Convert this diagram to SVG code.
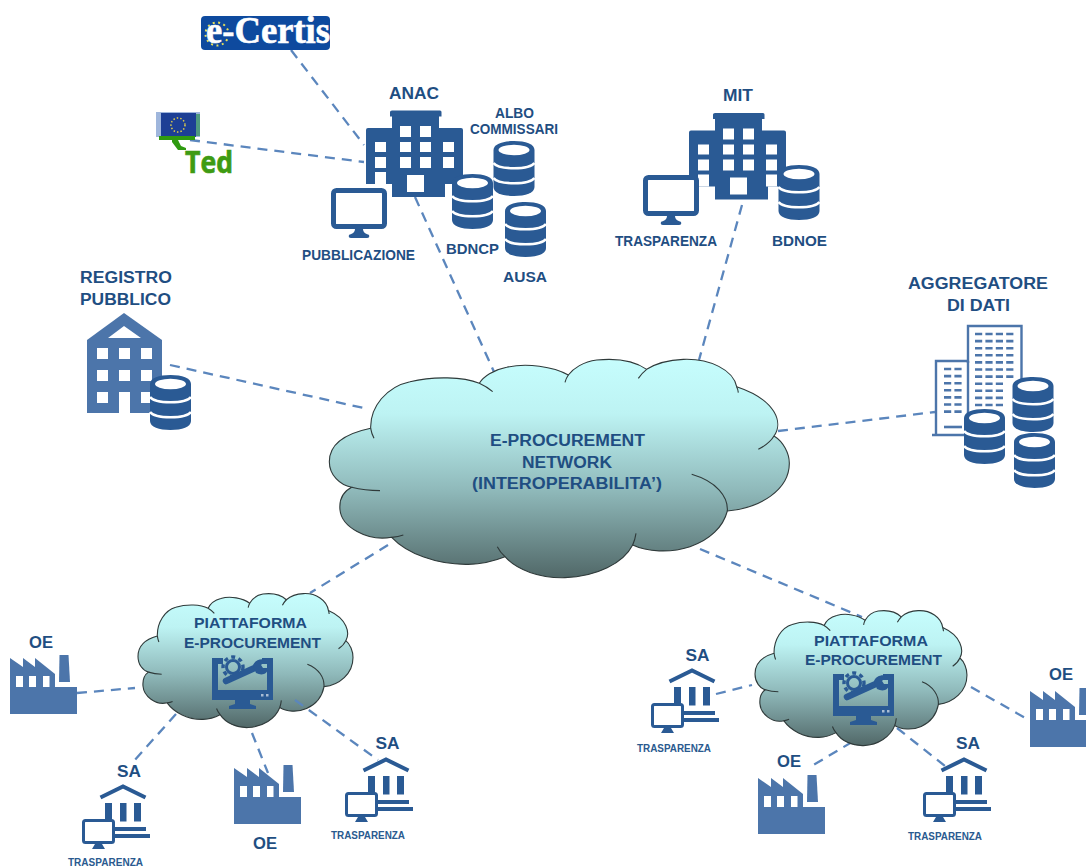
<svg xmlns="http://www.w3.org/2000/svg" xmlns:xlink="http://www.w3.org/1999/xlink" width="1086" height="867" viewBox="0 0 1086 867">
<style>
text{font-family:"Liberation Sans",Arial,sans-serif;font-weight:700;fill:#1f4e82;text-anchor:middle}
.t16{font-size:17.2px}.t15{font-size:15.5px}.t14{font-size:14.3px}.t10{font-size:10px;fill:#2a5a8f}
.dark{fill:#2a5a94}.light{fill:#4c75aa}.w{fill:#fff}
.conn{fill:none;stroke:#5b86bd;stroke-width:2.300;stroke-dasharray:10 7}
.cl{fill:url(#cloudGrad);stroke:#2f3a3a;stroke-width:1.1;vector-effect:non-scaling-stroke}
.arc{fill:none;stroke:#2f3a3a;stroke-width:1.1;vector-effect:non-scaling-stroke}
</style>
<defs>
<linearGradient id="cloudGrad" x1="0" y1="0" x2="0" y2="1">
<stop offset="0" stop-color="#c6fdfd"/><stop offset=".25" stop-color="#bdf3f3"/><stop offset=".6" stop-color="#8fb9ba"/><stop offset="1" stop-color="#516868"/>
</linearGradient>
<g id="cloud">
<path class="cl" d="M152,235C80,250 28,280 28,335C28,375 60,405 95,412C60,430 58,460 60,480C65,530 140,575 215,562C260,610 350,645 445,643C490,642 530,630 555,620C590,660 660,685 735,683C830,680 910,640 938,585C980,605 1050,610 1110,590C1170,570 1210,530 1222,483C1320,475 1408,420 1408,340C1408,310 1390,275 1362,258C1390,220 1370,150 1250,110C1240,60 1170,25 1090,28C1040,30 1000,45 980,58C940,30 880,25 830,30C790,35 760,55 745,75C700,50 620,38 560,52C520,60 490,80 478,100C430,80 340,78 270,95C200,110 150,170 152,235Z"/>
<path class="arc" d="M152,235Q155,252 162,265M95,412Q135,422 180,422M215,562Q235,560 250,555M532,590Q540,606 555,620M948,550Q945,570 938,585M1115,373C1190,395 1225,440 1222,483M1315,298C1340,285 1355,270 1362,258M1250,110Q1254,118 1255,128M980,58Q965,70 955,85M745,75Q738,85 735,97M478,100Q500,110 518,125"/>
</g>
<g id="cyl">
<path class="dark" d="M0,9C0,3 9,0 20.5,0S41,3 41,9V46C41,52 32,55 20.5,55S0,52 0,46Z"/>
<ellipse class="w" cx="20.5" cy="9" rx="15.5" ry="5.2"/>
<path d="M0,22C5,29 36,29 41,22M0,37C5,44 36,44 41,37" fill="none" stroke="#fff" stroke-width="2.6"/>
</g>
<g id="factory">
<path class="light" d="M0,3L13,12V3L25,12V3L45,19V32H67V59H0Z"/>
<path class="light" d="M49.500,0H58.500L60,27H49Z"/>
<path class="w" d="M6,21h7v11h-7zM19,21h7v11h-7zM33,21h6.500v11h-6.500z"/>
</g>
<g id="monitor">
<rect x="2.500" y="2.500" width="51" height="36" rx="3" fill="#fff" stroke="#2a5a94" stroke-width="5"/>
<path class="dark" d="M24,41H32C32,45 36,46 38,47Q39,50 36,50H20Q17,50 18,47C20,46 24,45 24,41Z"/>
</g>
<g id="sa">
<path d="M18.500,12.500L41,1.500L63.500,12.500" fill="none" stroke="#2a5a94" stroke-width="4"/>
<path class="dark" d="M23,18h7v18.500h-7zM38,18h6.500v18.500h-6.500zM52,18h7v18.500h-7zM33,42h31v4h-31zM33,49h35v4h-35z"/>
<rect x="1.500" y="35.500" width="30" height="22" rx="2" fill="#fff" stroke="#2a5a94" stroke-width="3"/>
<path class="dark" d="M13,59H20L23,64H10Z"/>
</g>
<g id="tool">
<path d="M11,4H3V37H58V4H50" fill="none" stroke="#2a5a94" stroke-width="6"/>
<path class="dark" d="M0,33H61V43H0ZM23,43H38V47L44,49V52H17V49L23,47Z"/>
<path class="w" d="M49,37h2.500v2.500h-2.500zM54,37h2.500v2.500h-2.500z" opacity=".6"/>
<circle cx="21" cy="10" r="6.500" fill="none" stroke="#2a5a94" stroke-width="3"/>
<circle cx="21" cy="10" r="10" fill="none" stroke="#2a5a94" stroke-width="3.400" stroke-dasharray="4 3.500"/>
<path d="M14,24L46,9.500" fill="none" stroke="#2a5a94" stroke-width="6.500" stroke-linecap="round"/>
<path class="dark" d="M41,8C43,3 49,1 54,3L49,8L51,11L56,11C56,17 50,19 44,16Z"/>
</g>
</defs>

<g id="connectors">
<path class="conn" d="M291,50L364,145"/>
<path class="conn" d="M190,140L364,162"/>
<path class="conn" d="M415,197L495,374"/>
<path class="conn" d="M742,205L699,360"/>
<path class="conn" d="M170,365L368,409"/>
<path class="conn" d="M778,431L935,412"/>
<path class="conn" d="M388,545L310,593"/>
<path class="conn" d="M700,549L862,617"/>
<path class="conn" d="M77,693L135,688"/>
<path class="conn" d="M176,714L133,762"/>
<path class="conn" d="M252,733L268,773"/>
<path class="conn" d="M716,694L752,685"/>
<path class="conn" d="M852,742L810,767"/>
<path class="conn" d="M971,687L1027,719"/>
</g>

<g id="ecertis">
<rect x="201" y="16" width="129" height="34" rx="4" fill="#0e4a9e"/>
<circle cx="217" cy="34" r="11.500" fill="none" stroke="#e8e05a" stroke-width="2" stroke-dasharray="2 3.500"/>
<text x="268" y="43" style="font-family:'Liberation Serif',serif;fill:#fff;stroke:#fff;stroke-width:.6;font-size:37px" textLength="124" lengthAdjust="spacingAndGlyphs">e-Certis</text>
</g>

<g id="ted">
<rect x="156" y="112" width="44" height="25" fill="#9fb6dc"/>
<rect x="161" y="113" width="35" height="24" fill="#1d3f95"/>
<rect x="196" y="114" width="4" height="22" fill="#4f9a80"/>
<circle cx="178" cy="125" r="7" fill="none" stroke="#e3cf4a" stroke-width="1.500" stroke-dasharray="1.500 2"/>
<path d="M159,136H195V140H178L181,146L186,148V150H178L172,142V140H159Z" fill="#2f9a10"/>
<text x="209" y="173" style="font-family:'Open Sans',sans-serif;fill:#3e9b12;stroke:#3e9b12;stroke-width:.7;font-size:31px" textLength="48" lengthAdjust="spacingAndGlyphs">Ted</text>
</g>

<g id="anac">
<g id="anacBuilding">
<path class="dark" d="M390,112Q390,110.500 392,110.500H440Q441.500,110.500 441.500,112V116.500H439V128H461Q463,128 463,130V184H445V197H392V184H366V130Q366,128 368,128H392V116.500H390Z"/>
<path class="w" d="M400,126h11v11h-11zM420,126h11v11h-11zM375,142h11v10h-11zM400,142h11v10h-11zM420,142h11v10h-11zM443,142h11v10h-11zM375,157h11v11h-11zM400,157h11v11h-11zM420,157h11v11h-11zM443,157h11v11h-11zM375,172h11v12h-11zM407,175h17v17h-17z"/>
</g>
<use href="#monitor" x="331" y="188"/>
<use href="#cyl" x="493.500" y="141"/>
<use href="#cyl" x="452" y="174"/>
<use href="#cyl" x="505" y="202"/>
<text class="t16" x="414" y="98.500" textLength="50" lengthAdjust="spacingAndGlyphs">ANAC</text>
<text class="t14" x="514.500" y="118" textLength="39" lengthAdjust="spacingAndGlyphs">ALBO</text>
<text class="t14" x="514" y="134" textLength="88" lengthAdjust="spacingAndGlyphs">COMMISSARI</text>
<text class="t14" x="358.500" y="260" textLength="113" lengthAdjust="spacingAndGlyphs">PUBBLICAZIONE</text>
<text class="t14" x="472.500" y="254" textLength="53" lengthAdjust="spacingAndGlyphs">BDNCP</text>
<text class="t14" x="525" y="282" textLength="44" lengthAdjust="spacingAndGlyphs">AUSA</text>
</g>

<g id="mit">
<g transform="translate(323,2.500)">
<path class="dark" d="M390,112Q390,110.500 392,110.500H440Q441.500,110.500 441.500,112V116.500H439V128H461Q463,128 463,130V184H445V197H392V184H366V130Q366,128 368,128H392V116.500H390Z"/>
<path class="w" d="M400,126h11v11h-11zM420,126h11v11h-11zM375,142h11v10h-11zM400,142h11v10h-11zM420,142h11v10h-11zM443,142h11v10h-11zM375,157h11v11h-11zM400,157h11v11h-11zM420,157h11v11h-11zM443,157h11v11h-11zM375,172h11v12h-11zM443,172h11v12h-11zM407,175h17v17h-17z"/>
</g>
<use href="#monitor" x="643" y="175"/>
<use href="#cyl" x="778.500" y="165"/>
<text class="t16" x="738" y="101" textLength="30" lengthAdjust="spacingAndGlyphs">MIT</text>
<text class="t14" x="666" y="246" textLength="102" lengthAdjust="spacingAndGlyphs">TRASPARENZA</text>
<text class="t14" x="799.500" y="246" textLength="55" lengthAdjust="spacingAndGlyphs">BDNOE</text>
</g>

<g id="registro">
<path class="light" d="M124,313L162,340V413H87V340Z"/>
<path class="w" d="M108,338L124,326L141,338ZM97,348h11v11h-11zM119,348h11v11h-11zM141,348h11v11h-11zM97,370h11v11h-11zM119,370h11v11h-11zM141,370h11v11h-11zM97,392h11v11h-11zM119,392h11v21h-11zM141,392h11v11h-11z"/>
<use href="#cyl" x="150" y="375"/>
<text class="t16" x="126" y="283" textLength="92" lengthAdjust="spacingAndGlyphs">REGISTRO</text>
<text class="t16" x="125.500" y="305" textLength="91" lengthAdjust="spacingAndGlyphs">PUBBLICO</text>
</g>

<g id="aggregatore">
<path d="M968,363V326H1021.500V385M968,361H936V435M932,435H965" fill="none" stroke="#4c75aa" stroke-width="2.400"/>
<path d="M968,361V420" fill="none" stroke="#4c75aa" stroke-width="2.400"/>
<g fill="none" stroke="#4c75aa" stroke-width="2.600" stroke-dasharray="7.200 3.200">
<path d="M975,334H1014M975,341.100H1014M975,348.200H1014M975,355.300H1014M975,362.400H1014M975,369.500H1014M975,376.600H1014M975,383.700H1003M975,390.800H1003M975,397.900H1003M975,405H1003"/>
<path d="M944,369H962M944,376.100H962M944,383.200H962M944,390.300H962M944,397.400H962M944,404.500H962M944,411.600H962"/>
<path d="M944,427H962" stroke-dasharray="none"/>
</g>
<use href="#cyl" x="1012.500" y="377"/>
<use href="#cyl" x="964" y="409"/>
<use href="#cyl" x="1014" y="433"/>
<text class="t16" x="978" y="289" textLength="140" lengthAdjust="spacingAndGlyphs">AGGREGATORE</text>
<text class="t16" x="978.500" y="311" textLength="63" lengthAdjust="spacingAndGlyphs">DI DATI</text>
</g>

<g id="network">
<use href="#cloud" transform="translate(320,350) scale(.33333)"/>
<text class="t16" x="567.500" y="446" textLength="155" lengthAdjust="spacingAndGlyphs">E-PROCUREMENT</text>
<text class="t16" x="567" y="467.500" textLength="90" lengthAdjust="spacingAndGlyphs">NETWORK</text>
<text class="t16" x="567" y="489" textLength="190" lengthAdjust="spacingAndGlyphs">(INTEROPERABILITA’)</text>
</g>

<g id="platformLeft">
<use href="#cloud" transform="translate(138,593) scale(.1558,.2045) translate(-28,-25)"/>
<use href="#tool" x="212" y="657"/>
<text class="t15" x="250.500" y="628" textLength="113" lengthAdjust="spacingAndGlyphs">PIATTAFORMA</text>
<text class="t15" x="252.500" y="648" textLength="137" lengthAdjust="spacingAndGlyphs">E-PROCUREMENT</text>
</g>
<g id="platformRight">
<use href="#cloud" transform="translate(755,610) scale(.1536,.2061) translate(-28,-25)"/>
<use href="#tool" x="833" y="673"/>
<text class="t15" x="871" y="646" textLength="114" lengthAdjust="spacingAndGlyphs">PIATTAFORMA</text>
<text class="t15" x="873.500" y="665" textLength="137" lengthAdjust="spacingAndGlyphs">E-PROCUREMENT</text>
</g>

<path class="conn" d="M295,700L378,760"/>
<path class="conn" d="M897,728L945,766"/>

<g id="oeLeft"><use href="#factory" x="10" y="655"/><text class="t16" x="41" y="648" textLength="24" lengthAdjust="spacingAndGlyphs">OE</text></g>
<g id="saLeft"><use href="#sa" x="82" y="785"/><text class="t16" x="129" y="777" textLength="24" lengthAdjust="spacingAndGlyphs">SA</text><text class="t10" x="105.500" y="866" textLength="75" lengthAdjust="spacingAndGlyphs">TRASPARENZA</text></g>
<g id="oeMiddle"><use href="#factory" x="234" y="765"/><text class="t16" x="265" y="849" textLength="24" lengthAdjust="spacingAndGlyphs">OE</text></g>
<g id="saMiddle"><use href="#sa" x="345" y="758"/><text class="t16" x="387.500" y="749" textLength="24" lengthAdjust="spacingAndGlyphs">SA</text><text class="t10" x="368" y="839" textLength="74" lengthAdjust="spacingAndGlyphs">TRASPARENZA</text></g>
<g id="saRight1"><use href="#sa" x="651" y="669"/><text class="t16" x="697.500" y="661" textLength="24" lengthAdjust="spacingAndGlyphs">SA</text><text class="t10" x="674" y="752" textLength="74" lengthAdjust="spacingAndGlyphs">TRASPARENZA</text></g>
<g id="oeRight1"><use href="#factory" x="758" y="775"/><text class="t16" x="789" y="767" textLength="24" lengthAdjust="spacingAndGlyphs">OE</text></g>
<g id="saRight2"><use href="#sa" x="923" y="758"/><text class="t16" x="968" y="749" textLength="24" lengthAdjust="spacingAndGlyphs">SA</text><text class="t10" x="945" y="840" textLength="74" lengthAdjust="spacingAndGlyphs">TRASPARENZA</text></g>
<g id="oeRight2"><use href="#factory" x="1030" y="688"/><text class="t16" x="1061" y="680" textLength="24" lengthAdjust="spacingAndGlyphs">OE</text></g>
</svg>
